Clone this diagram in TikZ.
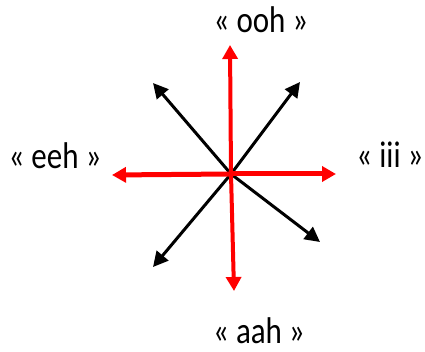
\documentclass[tikz,border=0pt]{standalone}
\usepackage{fontspec}
\setmainfont{Carlito}
\usepackage{tikz}
\usetikzlibrary{arrows.meta}

\newcommand{\tallword}[1]{\scalebox{1}[1.2]{#1}}

\tikzset{
  vowel/.style={anchor=base,inner sep=0pt,font=\fontsize{31}{36}\selectfont},
  redaxis/.style={-{Triangle[length=14pt,width=15pt]},red,line width=5pt},
  diag/.style={-{Triangle[length=15pt,width=15pt]},black,line width=3pt}
}

\begin{document}
\begin{tikzpicture}[x=1pt,y=-1pt]
    \useasboundingbox (0,0) rectangle (425,352);

    % Centre and arrow ends
    \coordinate (c) at (231,174);
    \coordinate (up) at (230,45);
    \coordinate (down) at (234,291);
    \coordinate (left) at (112,175);
    \coordinate (right) at (336,174);
    \coordinate (ul) at (153,83);
    \coordinate (ur) at (300,82);
    \coordinate (dl) at (153,267);
    \coordinate (dr) at (320,242);

    % Diagonal arrows
    \draw[diag] (c) -- (ul);
    \draw[diag] (c) -- (ur);
    \draw[diag] (c) -- (dl);
    \draw[diag] (c) -- (dr);

    % Red axes
    \draw[redaxis,line width=4pt] (c) -- (up);
    \draw[redaxis,line width=4pt] (c) -- (down);
    \draw[redaxis] (c) -- (left);
    \draw[redaxis] (c) -- (right);

    % Vowel labels
    \node[vowel] (ooh) at (261,33) {\tallword{« ooh »}};
    \node[vowel] (eeh) at (55,169) {\tallword{« eeh »}};
    \node[vowel] (iii) at (390,168) {\tallword{« iii »}};
    \node[vowel] (aah) at (259,343) {\tallword{« aah »}};
\end{tikzpicture}
\end{document}
